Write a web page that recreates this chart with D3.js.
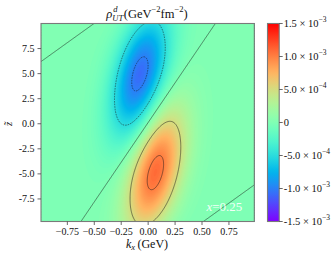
<!DOCTYPE html>
<html><head><meta charset="utf-8">
<script src="https://cdn.jsdelivr.net/npm/d3@7"></script>
<style>html,body{margin:0;padding:0;background:#fff}svg{display:block}</style>
</head><body>
<script>
// ---------- data ----------
const kxDomain = [-0.99, 0.99];
const zDomain = [-9.8, 9.95];
const kxTicks = [-0.75, -0.5, -0.25, 0, 0.25, 0.5, 0.75];
const kxTickLabels = ["\u22120.75", "\u22120.50", "\u22120.25", "0.00", "0.25", "0.50", "0.75"];
const zTicks = [-7.5, -5, -2.5, 0, 2.5, 5, 7.5];
const zTickLabels = ["-7.5", "-5.0", "-2.5", "0.0", "2.5", "5.0", "7.5"];
const cbTicks = [-1.5e-3, -1e-3, -5e-4, 0, 5e-4, 1e-3, 1.5e-3];
const cbMantissa = ["-1.5 \u00d7 10", "-1.0 \u00d7 10", "-5.0 \u00d7 10", "0", "5.0 \u00d7 10", "1.0 \u00d7 10", "1.5 \u00d7 10"];
const cbExponent = ["\u22123", "\u22123", "\u22124", "", "\u22124", "\u22123", "\u22123"];
const contourLevels = [-1e-3, -5e-4, 0, 5e-4, 1e-3];
const cbDomain = [-1.5e-3, 1.5e-3];
// lobes of the density rho_UT^d(kx, z~): centre, amplitude, widths, correlation
const lobeKx = [-0.07, 0.07, 0.013, -0.013];
const lobeZ = [4.8, -4.8, 18.8, -18.8];
const lobeAmp = [-1.1e-3, 1.1e-3, 2.44e-4, -2.44e-4];
const lobeSigmaKx = [0.19, 0.19, 0.19, 0.19];
const lobeSigmaZ = [4.4, 4.4, 4.4, 4.4];
const lobeRho = [0.45, 0.45, 0.45, 0.45];
const annotation = "0.25";

// ---------- layout ----------
const W = 335, H = 258;
const P = {x0: 41, x1: 254.3, y0: 23.5, y1: 221.5};
const CB = {x0: 267.5, x1: 279.2};
const serif = "'Liberation Serif','Times New Roman',Times,serif";

const x = d3.scaleLinear().domain(kxDomain).range([P.x0, P.x1]);
const y = d3.scaleLinear().domain(zDomain).range([P.y1, P.y0]);

function rainbow(t) {
  t = Math.max(0, Math.min(1, t));
  const r = Math.min(1, Math.abs(2 * t - 0.5)), g = Math.sin(Math.PI * t), b = Math.cos(Math.PI * t / 2);
  return `rgb(${Math.round(r * 255)},${Math.round(g * 255)},${Math.round(b * 255)})`;
}
const color = d3.scaleSequential(rainbow).domain(cbDomain);

function density(kx, z) {
  let s = 0;
  for (let k = 0; k < lobeAmp.length; k++) {
    const u = (kx - lobeKx[k]) / lobeSigmaKx[k], v = (z - lobeZ[k]) / lobeSigmaZ[k], r = lobeRho[k];
    s += lobeAmp[k] * Math.exp(-(u * u - 2 * r * u * v + v * v) / (2 * (1 - r * r)));
  }
  return s;
}

const nx = 240, ny = 220;
const dk = (kxDomain[1] - kxDomain[0]) / (nx - 1), dz = (zDomain[1] - zDomain[0]) / (ny - 1);
const values = new Float64Array(nx * ny);
for (let j = 0; j < ny; j++) for (let i = 0; i < nx; i++)
  values[j * nx + i] = density(kxDomain[0] + i * dk, zDomain[1] - j * dz);

const proj = d3.geoTransform({point(gx, gy) {
  this.stream.point(x(kxDomain[0] + (gx - 0.5) * dk), y(zDomain[1] - (gy - 0.5) * dz));
}});
const path = d3.geoPath(proj);

const svg = d3.select("body").append("svg").attr("width", W).attr("height", H);
svg.append("defs").append("clipPath").attr("id", "clip")
  .append("rect").attr("x", P.x0).attr("y", P.y0).attr("width", P.x1 - P.x0).attr("height", P.y1 - P.y0);

const plotG = svg.append("g").attr("clip-path", "url(#clip)");
const step = 2e-5;
const fillLevels = d3.range(-75, 76).map(i => i * step);
plotG.append("rect").attr("x", P.x0).attr("y", P.y0).attr("width", P.x1 - P.x0).attr("height", P.y1 - P.y0)
  .attr("fill", color(fillLevels[0] - step / 2));
const fills = d3.contours().size([nx, ny]).thresholds(fillLevels)(values);
plotG.selectAll("path.f").data(fills.filter(c => c.coordinates.length)).join("path")
  .attr("class", "f").attr("d", path).attr("fill", d => color(d.value + step / 2)).attr("stroke", "none");

const lines = d3.contours().size([nx, ny]).thresholds(contourLevels)(values);
plotG.selectAll("path.c").data(lines).join("path")
  .attr("class", "c").attr("d", path).attr("fill", "none")
  .attr("stroke", "#1a1a1a").attr("stroke-width", 0.6).attr("stroke-opacity", 0.85)
  .attr("stroke-dasharray", d => d.value < 0 ? "1.6,1" : null);

// annotation
const ann = svg.append("text").attr("x", 206.5).attr("y", 210.5).attr("font-family", serif)
  .attr("font-size", 13).attr("fill", "#fff").attr("fill-opacity", 0.92);
ann.append("tspan").attr("font-style", "italic").text("x");
ann.append("tspan").text("=" + annotation);

// frame
svg.append("rect").attr("x", P.x0).attr("y", P.y0).attr("width", P.x1 - P.x0).attr("height", P.y1 - P.y0)
  .attr("fill", "none").attr("stroke", "#7a7a7a").attr("stroke-width", 1.1);

// axes
const xAxis = d3.axisBottom(x).tickValues(kxTicks).tickFormat((d, i) => kxTickLabels[i]).tickSize(3.5).tickPadding(2.5);
const gx = svg.append("g").attr("transform", `translate(0,${P.y1})`).call(xAxis);
const yAxis = d3.axisLeft(y).tickValues(zTicks).tickFormat((d, i) => zTickLabels[i]).tickSize(3.5).tickPadding(3);
const gy = svg.append("g").attr("transform", `translate(${P.x0},0)`).call(yAxis);
[gx, gy].forEach(g => {
  g.attr("font-family", serif);
  g.select(".domain").remove();
  g.selectAll("line").attr("stroke", "#444").attr("stroke-width", 0.8);
  g.selectAll("text").attr("font-family", serif).attr("font-size", 10).attr("fill", "#111");
});

// axis labels
const xl = svg.append("text").attr("x", 147).attr("y", 247.5).attr("text-anchor", "middle")
  .attr("font-family", serif).attr("font-size", 12).attr("fill", "#111");
xl.append("tspan").attr("font-style", "italic").text("k");
xl.append("tspan").attr("font-style", "italic").attr("font-size", 8.5).attr("dy", 2.5).text("x");
xl.append("tspan").attr("dy", -2.5).text("\u2009(GeV)");
svg.append("text").attr("transform", "translate(11.5,124) rotate(-90)").attr("text-anchor", "middle")
  .attr("font-family", serif).attr("font-size", 10.5).attr("font-style", "italic").attr("fill", "#111").text("z\u0303");

// title
const tg = svg.append("g").attr("font-family", serif).attr("fill", "#111");
let cx = 0; const base = 17.5;
function addText(str, o = {}) {
  const t = tg.append("text").attr("x", cx + (o.dx || 0)).attr("y", base + (o.dy || 0))
    .attr("font-size", o.size || 12.5).attr("font-style", o.italic ? "italic" : "normal").text(str);
  return t.node().getComputedTextLength();
}
cx += addText("\u03c1", {italic: true});
const wd = addText("d", {size: 8.5, dy: -6, italic: true, dx: 1});
const wu = addText("UT", {size: 8.5, dy: 3, italic: true});
cx += Math.max(wd + 1, wu) + 0.5;
cx += addText("(GeV");
cx += addText("\u22122", {size: 8.5, dy: -5.5});
cx += addText("fm");
cx += addText("\u22122", {size: 8.5, dy: -5.5});
cx += addText(")");
tg.attr("transform", `translate(${147 - cx / 2},0)`);

// colorbar
const cy = d3.scaleLinear().domain(cbDomain).range([P.y1, P.y0]);
const grad = svg.select("defs").append("linearGradient").attr("id", "cbg")
  .attr("x1", 0).attr("y1", 1).attr("x2", 0).attr("y2", 0);
d3.range(0, 1.0001, 0.02).forEach(t => grad.append("stop").attr("offset", t)
  .attr("stop-color", color(cbDomain[0] + t * (cbDomain[1] - cbDomain[0]))));
svg.append("rect").attr("x", CB.x0).attr("y", P.y0).attr("width", CB.x1 - CB.x0).attr("height", P.y1 - P.y0)
  .attr("fill", "url(#cbg)").attr("stroke", "#7a7a7a").attr("stroke-width", 1.1);
const cbG = svg.append("g");
cbTicks.forEach((v, i) => {
  const yy = cy(v);
  cbG.append("line").attr("x1", CB.x1).attr("x2", CB.x1 + 3.5).attr("y1", yy).attr("y2", yy)
    .attr("stroke", "#444").attr("stroke-width", 0.8);
  const t = cbG.append("text").attr("x", CB.x1 + 4.5).attr("y", yy + 3.5).attr("font-family", serif)
    .attr("font-size", 10.5).attr("fill", "#111");
  t.append("tspan").text(cbMantissa[i]);
  if (cbExponent[i]) t.append("tspan").attr("font-size", 7.5).attr("dy", -5).text(cbExponent[i]);
});
</script>
</body></html>
